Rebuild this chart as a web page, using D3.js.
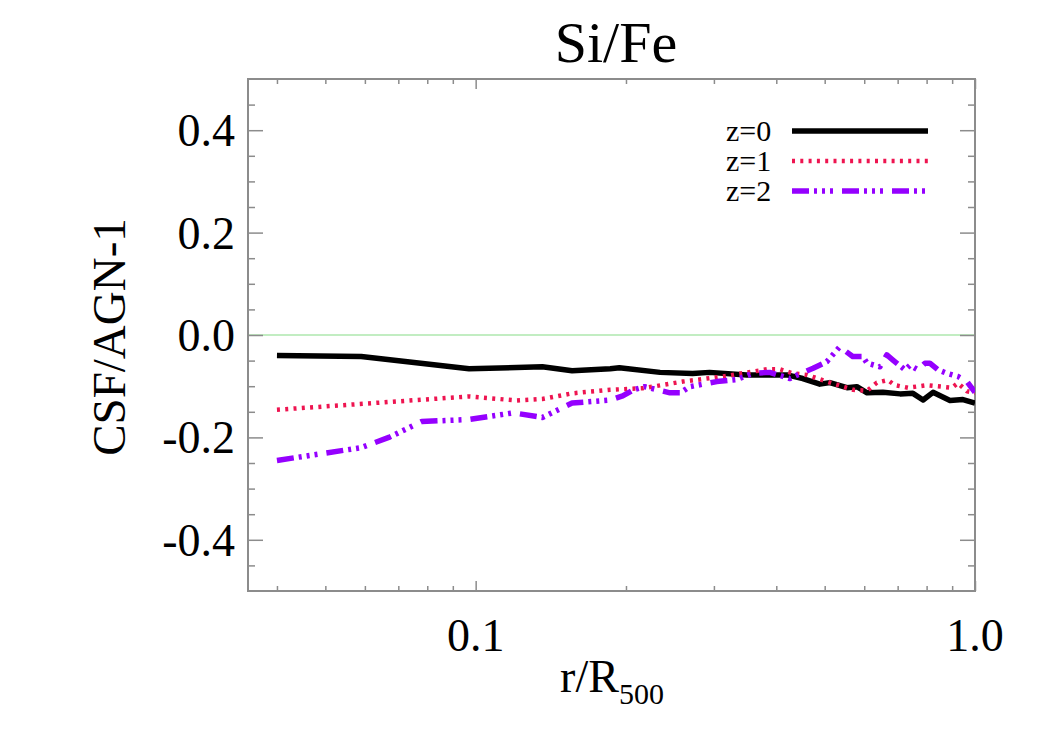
<!DOCTYPE html>
<html>
<head>
<meta charset="utf-8">
<script src="https://cdn.jsdelivr.net/npm/d3@7"></script>
<style>
  body { margin: 0; background: #fff; }
  svg { display: block; font-family: "Liberation Serif", "DejaVu Serif", serif; }
</style>
</head>
<body>
<svg id="chart" width="1050" height="750"></svg>
<script>
// radius (r/R500) and CSF/AGN-1 values
const rZ0 = [0.040, 0.059, 0.097, 0.136, 0.156, 0.186, 0.194, 0.234, 0.272, 0.294, 0.349, 0.420, 0.452, 0.489, 0.512, 0.554, 0.580, 0.608, 0.654, 0.708, 0.751, 0.787, 0.824, 0.891, 0.946, 1.0];
const vZ0 = [-0.040, -0.042, -0.066, -0.062, -0.070, -0.066, -0.064, -0.073, -0.075, -0.073, -0.078, -0.078, -0.085, -0.096, -0.093, -0.103, -0.101, -0.113, -0.112, -0.115, -0.114, -0.127, -0.112, -0.128, -0.126, -0.133];

const rZ1 = [0.040, 0.097, 0.121, 0.136, 0.156, 0.186, 0.216, 0.260, 0.313, 0.383, 0.407, 0.432, 0.461, 0.505, 0.570, 0.608, 0.636, 0.669, 0.691, 0.734, 0.801, 0.899, 0.924, 0.964, 1.0];
const vZ1 = [-0.146, -0.120, -0.128, -0.125, -0.114, -0.107, -0.104, -0.091, -0.081, -0.067, -0.067, -0.075, -0.078, -0.091, -0.107, -0.109, -0.093, -0.088, -0.098, -0.103, -0.098, -0.103, -0.094, -0.110, -0.113];

const rZ2 = [0.040, 0.059, 0.067, 0.078, 0.097, 0.119, 0.136, 0.156, 0.186, 0.197, 0.207, 0.218, 0.245, 0.257, 0.268, 0.285, 0.304, 0.333, 0.359, 0.388, 0.426, 0.446, 0.474, 0.505, 0.536, 0.569, 0.596, 0.608, 0.645, 0.666, 0.685, 0.724, 0.741, 0.769, 0.794, 0.812, 0.843, 0.879, 0.924, 0.964, 1.0];
const vZ2 = [-0.245, -0.220, -0.200, -0.169, -0.165, -0.152, -0.161, -0.133, -0.127, -0.119, -0.107, -0.101, -0.113, -0.113, -0.101, -0.096, -0.091, -0.087, -0.075, -0.073, -0.085, -0.076, -0.065, -0.052, -0.023, -0.042, -0.042, -0.055, -0.062, -0.039, -0.049, -0.068, -0.059, -0.068, -0.055, -0.055, -0.068, -0.075, -0.081, -0.091, -0.112];

const seriesLabels = ["z=0", "z=1", "z=2"];

const xMajorTicks = [0.1, 1.0];
const xMinorTicks = [0.04, 0.05, 0.06, 0.07, 0.08, 0.09, 0.2, 0.3, 0.4, 0.5, 0.6, 0.7, 0.8, 0.9];
const xTickLabels = ["0.1", "1.0"];
const yMajorTicks = [-0.4, -0.2, 0.0, 0.2, 0.4];
const yMinorTicks = [-0.45, -0.35, -0.3, -0.25, -0.15, -0.1, -0.05, 0.05, 0.1, 0.15, 0.25, 0.3, 0.35, 0.45];
const yTickLabels = ["-0.4", "-0.2", "0.0", "0.2", "0.4"];

const styles = [
  { color: "#000000", width: 5.5, dash: null },
  { color: "#ee1450", width: 4.5, dash: "3,5.3" },
  { color: "#9500ff", width: 5.5, dash: "17,5,3,5,3,5,3,9" }
];

const plotL = 248, plotR = 975, plotT = 79, plotB = 591;
const axisColor = "#8c8c8c";

const svg = d3.select("#chart");

const x = d3.scaleLog().domain([0.035, 1.0]).range([plotL, plotR]);
const y = d3.scaleLinear().domain([-0.5, 0.5]).range([plotB, plotT]);

svg.append("defs").append("clipPath").attr("id", "plot")
  .append("rect")
  .attr("x", plotL).attr("y", plotT)
  .attr("width", plotR - plotL).attr("height", plotB - plotT);

// zero line
svg.append("line")
  .attr("x1", plotL).attr("x2", plotR)
  .attr("y1", y(0)).attr("y2", y(0))
  .attr("stroke", "#86dc86")
  .attr("stroke-width", 1.2);

// axes: ticks on all four sides
function tickAxis(axisFn, scale, values, size, transform) {
  const g = svg.append("g")
    .attr("transform", transform)
    .call(axisFn(scale).tickValues(values).tickSize(size).tickFormat(""));
  g.select(".domain").remove();
  g.selectAll(".tick line").attr("stroke", axisColor).attr("stroke-width", 1.5);
  return g;
}

tickAxis(d3.axisTop, x, xMajorTicks, 10, `translate(0,${plotB})`);
tickAxis(d3.axisTop, x, xMinorTicks, 5, `translate(0,${plotB})`);
tickAxis(d3.axisBottom, x, xMajorTicks, 10, `translate(0,${plotT})`);
tickAxis(d3.axisBottom, x, xMinorTicks, 5, `translate(0,${plotT})`);
tickAxis(d3.axisRight, y, yMajorTicks, 15, `translate(${plotL},0)`);
tickAxis(d3.axisRight, y, yMinorTicks, 7, `translate(${plotL},0)`);
tickAxis(d3.axisLeft, y, yMajorTicks, 15, `translate(${plotR},0)`);
tickAxis(d3.axisLeft, y, yMinorTicks, 7, `translate(${plotR},0)`);

// frame
svg.append("rect")
  .attr("x", plotL).attr("y", plotT)
  .attr("width", plotR - plotL).attr("height", plotB - plotT)
  .attr("fill", "none")
  .attr("stroke", axisColor)
  .attr("stroke-width", 2);

// tick labels
svg.append("g").selectAll("text")
  .data(xMajorTicks)
  .join("text")
  .attr("x", d => x(d))
  .attr("y", 651)
  .attr("text-anchor", "middle")
  .attr("font-size", 46)
  .text((d, i) => xTickLabels[i]);

svg.append("g").selectAll("text")
  .data(yMajorTicks)
  .join("text")
  .attr("x", 235)
  .attr("y", d => y(d) + 16)
  .attr("text-anchor", "end")
  .attr("font-size", 46)
  .text((d, i) => yTickLabels[i]);

// titles
svg.append("text")
  .attr("x", 616).attr("y", 62)
  .attr("text-anchor", "middle")
  .attr("font-size", 58)
  .text("Si/Fe");

svg.append("text")
  .attr("transform", "translate(125,337) rotate(-90)")
  .attr("text-anchor", "middle")
  .attr("font-size", 47)
  .text("CSF/AGN-1");

const xl = svg.append("text")
  .attr("x", 612).attr("y", 692)
  .attr("text-anchor", "middle")
  .attr("font-size", 46);
xl.append("tspan").text("r/R");
xl.append("tspan").attr("font-size", 30).attr("dy", 12).text("500");

// series
const series = [
  rZ0.map((r, i) => [r, vZ0[i]]),
  rZ1.map((r, i) => [r, vZ1[i]]),
  rZ2.map((r, i) => [r, vZ2[i]])
];

const line = d3.line().x(d => x(d[0])).y(d => y(d[1]));

svg.append("g").attr("clip-path", "url(#plot)")
  .selectAll("path")
  .data(series)
  .join("path")
  .attr("d", line)
  .attr("fill", "none")
  .attr("stroke", (d, i) => styles[i].color)
  .attr("stroke-width", (d, i) => styles[i].width)
  .attr("stroke-dasharray", (d, i) => styles[i].dash)
  .attr("stroke-linejoin", "round");

// legend
const legend = svg.append("g").selectAll("g")
  .data(seriesLabels)
  .join("g")
  .attr("transform", (d, i) => `translate(0,${131 + i * 30})`);

legend.append("text")
  .attr("x", 726).attr("y", 9.5)
  .attr("font-size", 30)
  .text(d => d);

legend.append("line")
  .attr("x1", 792).attr("x2", 928)
  .attr("stroke", (d, i) => styles[i].color)
  .attr("stroke-width", (d, i) => styles[i].width)
  .attr("stroke-dasharray", (d, i) => styles[i].dash);
</script>
</body>
</html>
